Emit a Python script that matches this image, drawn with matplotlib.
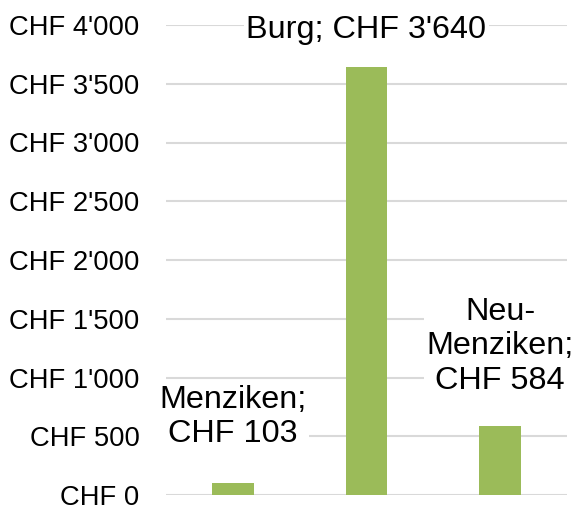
import matplotlib.pyplot as plt
from matplotlib.ticker import FuncFormatter

plt.rcParams['font.family'] = ['Liberation Sans', 'DejaVu Sans']

# data
places = ["Menziken", "Burg", "Neu-\nMenziken"]
amounts = [103, 3640, 584]
label_offsets = [(0, 66), (0, 37), (0, 80)]  # px above bar top (label centre)
y_ticks = [0, 500, 1000, 1500, 2000, 2500, 3000, 3500, 4000]

fig = plt.figure(figsize=(5.74, 5.09), dpi=100)
ax = fig.add_axes([166 / 574, 14 / 509, 401 / 574, 470 / 509])

x = list(range(len(places)))
ax.bar(x, amounts, width=0.31, color="#9BBB59", zorder=2)

ax.set_xlim(-0.5, 2.5)
ax.set_ylim(0, 4000)
ax.set_yticks(y_ticks)


def chf(v, pos):
    s = f"{int(v):,}".replace(",", "'")
    return f"CHF {s}"


ax.yaxis.set_major_formatter(FuncFormatter(chf))
ax.tick_params(axis="y", length=0, pad=19, labelsize=19.7)
ax.set_xticks([])
ax.grid(axis="y", color="#D9D9D9", linewidth=1.5, zorder=0)
for s in ax.spines.values():
    s.set_visible(False)

for i, (name, val) in enumerate(zip(places, amounts)):
    lbl = f"{name};\nCHF {val:,}".replace(",", "'")
    if name == "Burg":
        lbl = lbl.replace("\n", " ")
    dx, dy = label_offsets[i]
    ax.annotate(lbl, xy=(i, val), xytext=(dx * 0.72, dy * 0.72),
                textcoords="offset points", ha="center", va="center",
                fontsize=23.3, linespacing=1.2, zorder=3,
                bbox=dict(facecolor="white", edgecolor="none", pad=2))

fig.savefig("out.png", dpi=100)
